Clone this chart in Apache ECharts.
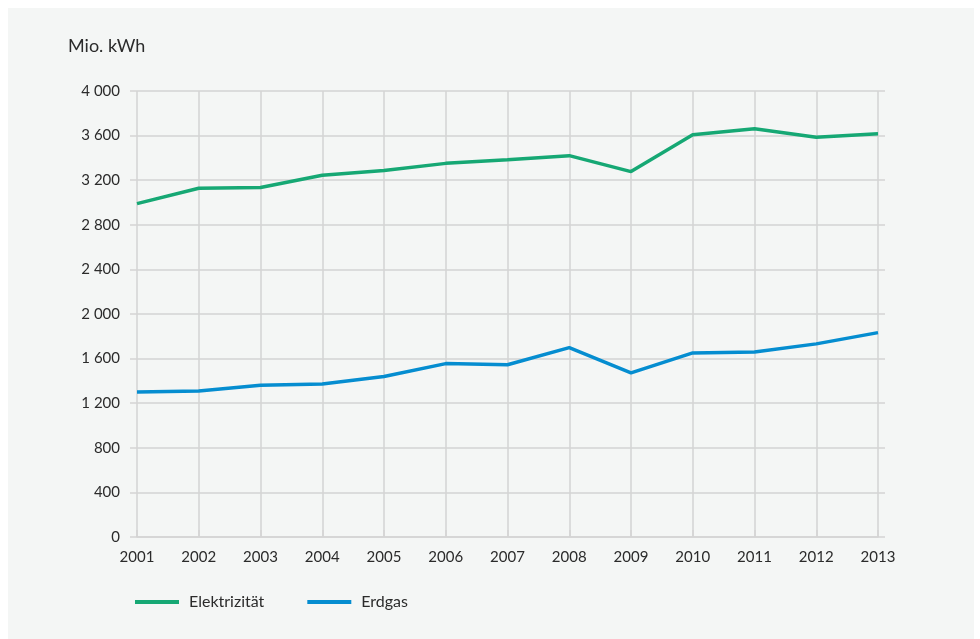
<!DOCTYPE html>
<html>
<head>
<meta charset="utf-8">
<script src="https://cdn.jsdelivr.net/npm/echarts@6/dist/echarts.min.js"></script>
<style>
html,body{margin:0;padding:0;background:#ffffff;}
#panel{position:absolute;left:8px;top:8px;width:966px;height:631px;background:#f4f6f5;}
#chart{position:absolute;left:0;top:0;width:980px;height:639px;}
</style>
</head>
<body>
<div id="panel"></div>
<div id="chart"></div>
<script>
const years = ['2001','2002','2003','2004','2005','2006','2007','2008','2009','2010','2011','2012','2013'];
const elektrizitaet = [2990, 3128, 3134, 3244, 3286, 3351, 3384, 3420, 3277, 3607, 3661, 3586, 3616];
const erdgas = [1300, 1309, 1361, 1373, 1440, 1555, 1545, 1698, 1472, 1651, 1660, 1732, 1833];
const seriesNames = ['Elektrizität', 'Erdgas'];
const unitLabel = 'Mio. kWh';

const FONT = 'Lato';
const TXT = '#2b2b2b';
const GRID = '#d3d3d3';

function fmt(v){ return String(v).replace(/\B(?=(\d{3})+(?!\d))/g, ' '); }

const chart = echarts.init(document.getElementById('chart'), null, {renderer:'canvas'});
chart.setOption({
  backgroundColor: 'transparent',
  animation: false,
  textStyle: {fontFamily: FONT, color: TXT},
  title: {
    text: unitLabel, left: 68, top: 37, padding: 0,
    textStyle: {fontFamily: FONT, fontSize: 18, fontWeight: 'normal', color: TXT}
  },
  grid: {left: 137, right: 102, top: 91, bottom: 102},
  legend: {
    left: 135, top: 594, padding: 0, icon: 'rect', itemWidth: 44, itemHeight: 4, itemGap: 43,
    textStyle: {fontFamily: FONT, fontSize: 16, color: TXT, padding: [0,0,0,5]},
    data: seriesNames
  },
  xAxis: [{
    type: 'category', data: years, boundaryGap: false, position: 'bottom',
    axisLine: {show: true, lineStyle: {color: GRID, width: 1.5}},
    axisTick: {show: false},
    axisLabel: {fontFamily: FONT, fontSize: 15, color: TXT, margin: 13},
    splitLine: {show: true, lineStyle: {color: GRID, width: 1.5}}
  }, {
    type: 'category', data: years, boundaryGap: false, position: 'top',
    axisLine: {show: false},
    axisTick: {show: true, length: 7, alignWithLabel: true, lineStyle: {color: GRID, width: 1.5}},
    axisLabel: {show: false},
    splitLine: {show: false}
  }],
  yAxis: [{
    type: 'value', min: 0, max: 4000, interval: 400, position: 'left',
    axisLine: {show: false},
    axisTick: {show: true, length: 7, lineStyle: {color: GRID, width: 1.5}},
    axisLabel: {fontFamily: FONT, fontSize: 15, color: TXT, margin: 17, formatter: fmt},
    splitLine: {show: true, lineStyle: {color: GRID, width: 1.5}}
  }, {
    type: 'value', min: 0, max: 4000, interval: 400, position: 'right',
    axisLine: {show: false},
    axisTick: {show: true, length: 7, lineStyle: {color: GRID, width: 1.5}},
    axisLabel: {show: false},
    splitLine: {show: false}
  }],
  series: [{
    name: seriesNames[0], type: 'line', data: elektrizitaet, showSymbol: false, symbol: 'none',
    lineStyle: {color: '#16a874', width: 3.5}, itemStyle: {color: '#16a874'}
  }, {
    name: seriesNames[1], type: 'line', data: erdgas, showSymbol: false, symbol: 'none',
    lineStyle: {color: '#058dd0', width: 3.5}, itemStyle: {color: '#058dd0'}
  }]
});
</script>
</body>
</html>
